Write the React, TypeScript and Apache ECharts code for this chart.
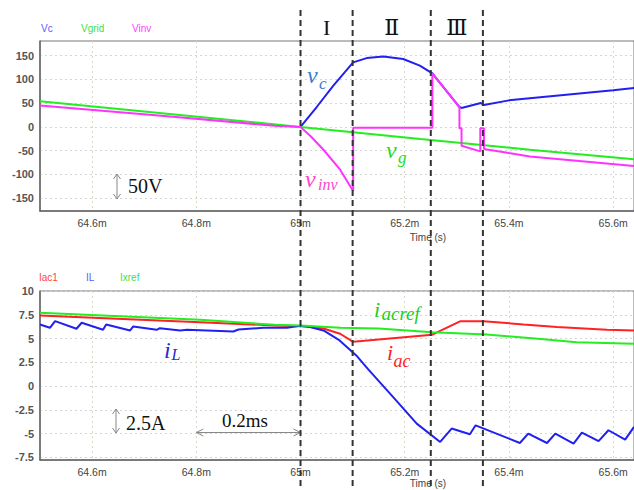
import React, { useEffect, useRef } from 'react';
import * as echarts from 'echarts';

// ---- time axis (ms) ----
const xTicks = [64.6, 64.8, 65.0, 65.2, 65.4, 65.6];
const xMin = 64.5;
const xMax = 65.64;

// ---- top plot: voltages ----
const vTicks = [-150, -100, -50, 0, 50, 100, 150];
const vcTime = [65.0, 65.031, 65.063, 65.101, 65.127, 65.159, 65.197, 65.229, 65.253, 65.305, 65.309, 65.346, 65.352, 65.4, 65.5, 65.6, 65.64];
const vcValue = [0, 42, 87, 136, 145, 148.5, 143, 129, 113, 42, 40, 50.5, 46, 56, 67, 77.5, 82];
const vgridTime = [64.5, 65.0, 65.23, 65.44, 65.64];
const vgridValue = [54, 0, -25.5, -48, -68];
const vinvTime = [64.5, 64.75, 64.95, 65.0, 65.02, 65.044, 65.076, 65.101, 65.101, 65.253, 65.253, 65.305, 65.305, 65.309, 65.309, 65.345, 65.345, 65.352, 65.352, 65.4, 65.44, 65.64];
const vinvValue = [45, 22, 2.5, 0, -20, -48, -90, -135, -1.5, -1.5, 113, 42, -2.5, -2.5, -39.5, -51.5, -2.5, -2.5, -46.5, -55, -62, -82];

// ---- bottom plot: currents ----
const iTicks = [-7.5, -5, -2.5, 0, 2.5, 5, 7.5, 10];
const iac1Time = [64.5, 64.807, 64.95, 65.0, 65.018, 65.044, 65.076, 65.101, 65.253, 65.307, 65.351, 65.428, 65.492, 65.588, 65.64];
const iac1Value = [7.42, 6.72, 6.37, 6.3, 6.27, 6.05, 5.5, 4.65, 5.4, 6.83, 6.83, 6.48, 6.2, 5.92, 5.85];
const ilTime = [64.5, 64.519, 64.529, 64.57, 64.58, 64.621, 64.627, 64.673, 64.679, 64.724, 64.73, 64.769, 64.782, 64.871, 64.881, 64.929, 64.974, 64.999, 65.018, 65.044, 65.075, 65.107, 65.13, 65.18, 65.223, 65.268, 65.29, 65.325, 65.336, 65.421, 65.437, 65.473, 65.489, 65.524, 65.54, 65.572, 65.591, 65.623, 65.64];
const ilValue = [6.48, 6.13, 6.83, 6.03, 6.66, 5.92, 6.48, 5.85, 6.27, 5.92, 6.09, 5.85, 5.92, 5.74, 5.95, 6.13, 6.13, 6.34, 6.2, 5.85, 4.8, 3.22, 1.75, -1.3, -3.95, -5.88, -4.47, -5.07, -4.13, -5.99, -5.0, -5.99, -5.0, -6.05, -4.9, -5.8, -4.65, -5.63, -4.3];
const ixrefTime = [64.5, 64.807, 64.95, 65.0, 65.076, 65.15, 65.253, 65.357, 65.45, 65.53, 65.64];
const ixrefValue = [7.7, 6.97, 6.45, 6.37, 6.13, 6.05, 5.67, 5.43, 5.0, 4.6, 4.45];

// ---- interval boundaries (ms) ----
const boundaries = [65.0, 65.1, 65.25, 65.35];
const regionLabels = ['I', 'Ⅱ', 'Ⅲ'];

const zip = (t: number[], v: number[]) => t.map((x, i) => [x, v[i]]);

const SERIF = "'Liberation Serif', 'Times New Roman', 'DejaVu Serif', serif";
const SANS = "'Liberation Sans', Arial, sans-serif";

function sym(x: number, y: number, main: string, sub: string, color: string, mainSize: number, subSize: number, subDx: number, subDy: number) {
  return {
    type: 'group',
    children: [
      { type: 'text', x, y, style: { text: main, fill: color, font: `italic ${mainSize}px ${SERIF}`, verticalAlign: 'middle' } },
      { type: 'text', x: x + subDx, y: y + subDy, style: { text: sub, fill: color, font: `italic ${subSize}px ${SERIF}`, verticalAlign: 'middle' } },
    ],
  };
}

function vArrow(x: number, y1: number, y2: number) {
  const c = '#888';
  return [
    { type: 'line', shape: { x1: x, y1, x2: x, y2 }, style: { stroke: c, lineWidth: 1 } },
    { type: 'polyline', shape: { points: [[x - 3.5, y1 + 5], [x, y1], [x + 3.5, y1 + 5]] }, style: { stroke: c, lineWidth: 1, fill: null } },
    { type: 'polyline', shape: { points: [[x - 3.5, y2 - 5], [x, y2], [x + 3.5, y2 - 5]] }, style: { stroke: c, lineWidth: 1, fill: null } },
  ];
}

function hArrow(x1: number, x2: number, y: number) {
  const c = '#888';
  return [
    { type: 'line', shape: { x1, y1: y, x2, y2: y }, style: { stroke: c, lineWidth: 1 } },
    { type: 'polyline', shape: { points: [[x1 + 7, y - 3.5], [x1, y], [x1 + 7, y + 3.5]] }, style: { stroke: c, lineWidth: 1, fill: null } },
    { type: 'polyline', shape: { points: [[x2 - 7, y - 3.5], [x2, y], [x2 - 7, y + 3.5]] }, style: { stroke: c, lineWidth: 1, fill: null } },
  ];
}

export default function App() {
  const ref = useRef<HTMLDivElement>(null);
  useEffect(() => {
    if (!ref.current) return;
    const chart = echarts.init(ref.current, undefined, { renderer: 'svg' });

    const axisLabelStyle = { color: '#444', fontSize: 10.5, fontFamily: SANS };
    const splitV = { show: true, lineStyle: { color: '#dcd8c8', type: [2, 3], width: 1 } };
    const splitH = { show: true, lineStyle: { color: '#d4d4d4', type: [2, 3], width: 1 } };
    const xAxisBase = (gridIndex: number) => ({
      type: 'value', gridIndex, min: xMin, max: xMax,
      axisLine: { show: true, onZero: false, lineStyle: { color: '#666', width: 1.5 } },
      axisTick: { show: false, customValues: xTicks },
      axisLabel: { customValues: xTicks, margin: 6, ...axisLabelStyle, formatter: (v: number) => `${Math.round(v * 10) / 10}m` },
      splitLine: splitV,
    });
    const yAxisBase = (gridIndex: number, min: number, max: number, ticks: number[]) => ({
      type: 'value', gridIndex, min, max,
      axisLine: { show: true, onZero: false, lineStyle: { color: '#666', width: 1.5 } },
      axisTick: { show: false, customValues: ticks },
      axisLabel: { customValues: ticks, margin: 6, ...axisLabelStyle, fontSize: 11, fontWeight: 'bold', color: '#555' },
      splitLine: splitH,
    });
    const lineSeries = (name: string, data: number[][], color: string, idx: number) => ({
      name, type: 'line', data, xAxisIndex: idx, yAxisIndex: idx, symbol: 'none', showSymbol: false,
      lineStyle: { color, width: 2 }, itemStyle: { color }, z: 3,
    });

    chart.setOption({
      animation: false,
      backgroundColor: '#fff',
      grid: [
        { left: 40, top: 41, right: 0, height: 170, show: true, borderColor: '#777', borderWidth: 1 },
        { left: 40, top: 291, right: 0, height: 169, show: true, borderColor: '#777', borderWidth: 1 },
      ],
      xAxis: [xAxisBase(0), xAxisBase(1)],
      yAxis: [yAxisBase(0, -177, 181, vTicks), yAxisBase(1, -7.78, 10, iTicks)],
      series: [
        lineSeries('Vc', zip(vcTime, vcValue), '#2020f0', 0),
        lineSeries('Vgrid', zip(vgridTime, vgridValue), '#22ee22', 0),
        lineSeries('Vinv', zip(vinvTime, vinvValue), '#ff33ff', 0),
        lineSeries('Iac1', zip(iac1Time, iac1Value), '#ff2222', 1),
        lineSeries('IL', zip(ilTime, ilValue), '#2020f0', 1),
        lineSeries('Ixref', zip(ixrefTime, ixrefValue), '#22ee22', 1),
      ],
    });

    const bx = boundaries.map((t) => chart.convertToPixel({ xAxisIndex: 0 }, t) as number);
    const graphics: any[] = [];
    bx.forEach((x) => {
      graphics.push({ type: 'line', z: 10, shape: { x1: x, y1: 10, x2: x, y2: 490 }, style: { stroke: '#333', lineWidth: 2, lineDash: [6, 4] } });
    });
    regionLabels.forEach((lab, i) => {
      graphics.push({ type: 'text', z: 10, x: (bx[i] + bx[i + 1]) / 2, y: 27, style: { text: lab, fill: '#111', font: `22px ${SERIF}`, align: 'center', verticalAlign: 'middle' } });
    });
    // legends
    const legends: [string, number, number, string][] = [
      ['Vc', 41, 28, '#5a5aff'], ['Vgrid', 81, 28, '#44e044'], ['Vinv', 132, 28, '#ff44ff'],
      ['Iac1', 39, 277, '#ff4444'], ['IL', 86, 277, '#5a5aff'], ['Ixref', 120, 277, '#44e044'],
    ];
    legends.forEach(([t, x, y, c]) => graphics.push({ type: 'text', x, y, style: { text: t, fill: c, font: `10px ${SANS}`, verticalAlign: 'middle' } }));
    graphics.push({ type: 'text', x: 428, y: 237, style: { text: 'Time (s)', fill: '#444', font: `10px ${SANS}`, align: 'center', verticalAlign: 'middle' } });
    graphics.push({ type: 'text', x: 428, y: 483, style: { text: 'Time (s)', fill: '#444', font: `10px ${SANS}`, align: 'center', verticalAlign: 'middle' } });
    // math annotations
    graphics.push(sym(307, 75, 'v', 'c', '#3b7cd0', 24, 17, 12, 8.5));
    graphics.push(sym(305, 178.5, 'v', 'inv', '#ff44cc', 24, 16, 13, 6));
    graphics.push(sym(386, 150, 'v', 'g', '#22dd22', 24, 17, 12, 7));
    graphics.push(sym(164, 350, 'i', 'L', '#2a2ad0', 24, 16, 7.5, 4.8));
    graphics.push(sym(374, 309, 'i', 'acref', '#22cc22', 22, 19, 7.5, 4.5));
    graphics.push(sym(387, 352.5, 'i', 'ac', '#ff2020', 22, 18, 6.5, 8));
    // scale marks
    graphics.push(...vArrow(117, 174, 199));
    graphics.push({ type: 'text', x: 128, y: 186, style: { text: '50V', fill: '#111', font: `20px ${SERIF}`, verticalAlign: 'middle' } });
    graphics.push(...vArrow(116, 409, 433));
    graphics.push({ type: 'text', x: 126, y: 423, style: { text: '2.5A', fill: '#111', font: `20px ${SERIF}`, verticalAlign: 'middle' } });
    const x08 = chart.convertToPixel({ xAxisIndex: 1 }, 64.8) as number;
    const x10 = chart.convertToPixel({ xAxisIndex: 1 }, 65.0) as number;
    graphics.push(...hArrow(x08, x10, 432.5));
    graphics.push({ type: 'text', x: 222, y: 420, style: { text: '0.2ms', fill: '#111', font: `19px ${SERIF}`, verticalAlign: 'middle' } });

    chart.setOption({ graphic: graphics });

    return () => chart.dispose();
  }, []);
  return <div ref={ref} style={{ position: 'absolute', left: 0, top: 0, width: 634, height: 490 }} />;
}
